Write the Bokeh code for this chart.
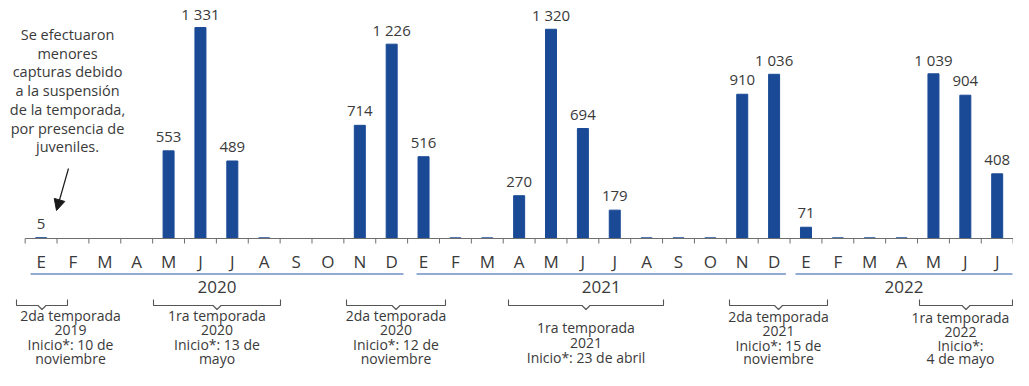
from bokeh.plotting import figure
from bokeh.models import Range1d, Arrow, NormalHead
from bokeh.core.properties import value
from bokeh.embed import file_html
from bokeh.resources import INLINE

# ---------------- data ----------------
months = ["E", "F", "M", "A", "M", "J", "J", "A", "S", "O", "N", "D",
          "E", "F", "M", "A", "M", "J", "J", "A", "S", "O", "N", "D",
          "E", "F", "M", "A", "M", "J", "J"]
captures = [5, 0, 0, 0, 553, 1331, 489, 4, 0, 0, 714, 1226,
            516, 4, 4, 270, 1320, 694, 179, 4, 4, 4, 910, 1036,
            71, 4, 4, 4, 1039, 904, 408]
labelled = [True, False, False, False, True, True, True, False, False, False, True, True,
            True, False, False, True, True, True, True, False, False, False, True, True,
            True, False, False, False, True, True, True]
years = ["2020", "2021", "2022"]
year_first_month = [0, 12, 24]
year_last_month = [11, 23, 30]

seasons = [
    ["2da temporada", "2019", "Inicio*: 10 de", "noviembre"],
    ["1ra temporada", "2020", "Inicio*: 13 de", "mayo"],
    ["2da temporada", "2020", "Inicio*: 12 de", "noviembre"],
    ["1ra temporada", "2021", "Inicio*: 23 de abril"],
    ["2da temporada", "2021", "Inicio*: 15 de", "noviembre"],
    ["1ra temporada", "2022", "Inicio*:", "4 de mayo"],
]
note = ["Se efectuaron", "menores", "capturas debido", "a la suspensión",
        "de la temporada,", "por presencia de", "juveniles."]

# ---------------- layout (pixel helpers) ----------------
W, H = 1013, 370
KX = 31.87          # px per month
KY = 0.1585         # px per unit
BASE = 238          # baseline, px from top of figure
X0 = -40.6 / KX

def mx(px):
    return px / KX + X0

def vy(py):
    return (BASE - py) / KY

FONT = value("Open Sans")
TXT = "#3a3a3a"
BLUE = "#1a4a96"

p = figure(width=W, height=H, output_backend="svg", toolbar_location=None,
           x_range=Range1d(X0, X0 + W / KX),
           y_range=Range1d(-(H - BASE) / KY, BASE / KY),
           min_border=0, outline_line_color=None)
p.axis.visible = False
p.grid.visible = False

xs = list(range(len(months)))

# bars
p.vbar(x=xs, top=captures, width=0.345, bottom=0, color=BLUE)

# value labels
lx = [x for x, l in zip(xs, labelled) if l]
lv = [v for v, l in zip(captures, labelled) if l]
lt = [f"{v:,}".replace(",", " ") for v in lv]
p.text(x=lx, y=lv, text=lt, text_font=FONT, text_font_size="15px", text_color=TXT,
       text_align="center", text_baseline="middle", y_offset=-14)

# axis line and ticks
p.segment(x0=[-0.5], y0=[0], x1=[len(months) - 0.5], y1=[0], line_color="#6e6e6e", line_width=1.2)
bounds = [i - 0.5 for i in range(len(months) + 1)]
p.segment(x0=bounds, y0=[0] * len(bounds), x1=bounds, y1=[-5 / KY] * len(bounds),
          line_color="#6e6e6e", line_width=1)

# month labels
p.text(x=xs, y=[vy(261)] * len(xs), text=months, text_font=FONT, text_font_size="17px",
       text_color=TXT, text_align="center", text_baseline="middle")

# year lines & labels
yl_x0 = [year_first_month[0] - 0.33, year_first_month[1] - 0.22, year_first_month[2] - 0.33]
yl_x1 = [year_last_month[0] + 0.37, year_last_month[1] + 0.37, year_last_month[2] + 0.48]
p.segment(x0=yl_x0, y0=[vy(273.5)] * 3, x1=yl_x1, y1=[vy(273.5)] * 3,
          line_color="#6d8fc4", line_width=1.6)
p.text(x=[(a + b) / 2 for a, b in zip(yl_x0, yl_x1)], y=[vy(286)] * 3, text=years,
       text_font=FONT, text_font_size="17px", text_color=TXT,
       text_align="center", text_baseline="middle")

# season brackets
br_px = [(16, 67), (153, 280), (346, 445), (508, 663), (729, 827), (919, 1012)]
text_cx_px = [70, None, None, None, None, 960]
line_y = {0: [315, 329.5, 344, 358], 1: [315, 329.5, 344, 358], 2: [315, 329.5, 344, 358],
          3: [327, 342, 357], 4: [316, 330.5, 345, 358], 5: [317, 331, 345, 358]}
bxs, bys = [], []
vx_half = 4 / KX
t_x, t_y, t_t = [], [], []
for i, (a, b) in enumerate(br_px):
    xa, xb = mx(a), mx(b)
    xc = (xa + xb) / 2
    bxs.append([xa, xa, xc - vx_half, xc, xc + vx_half, xb, xb])
    bys.append([vy(299), vy(305), vy(305), vy(309), vy(305), vy(305), vy(299)])
    cx = mx(text_cx_px[i]) if text_cx_px[i] else xc
    for line, ypx in zip(seasons[i], line_y[i]):
        t_x.append(cx)
        t_y.append(vy(ypx))
        t_t.append(line)
p.multi_line(xs=bxs, ys=bys, line_color="#555555", line_width=1.1)
p.text(x=t_x, y=t_y, text=t_t, text_font=FONT, text_font_size="14px", text_color=TXT,
       text_align="center", text_baseline="middle")

# note and arrow
p.text(x=[mx(67)] * len(note), y=[vy(34 + 18.7 * i) for i in range(len(note))], text=note,
       text_font=FONT, text_font_size="14.5px", text_color=TXT,
       text_align="center", text_baseline="middle")
p.add_layout(Arrow(end=NormalHead(size=11, fill_color="#1a1a1a", line_color="#1a1a1a"),
                   x_start=mx(68), y_start=vy(168), x_end=mx(56), y_end=vy(210),
                   line_color="#1a1a1a", line_width=1.2))

open("out.html", "w").write(file_html(p, INLINE))
